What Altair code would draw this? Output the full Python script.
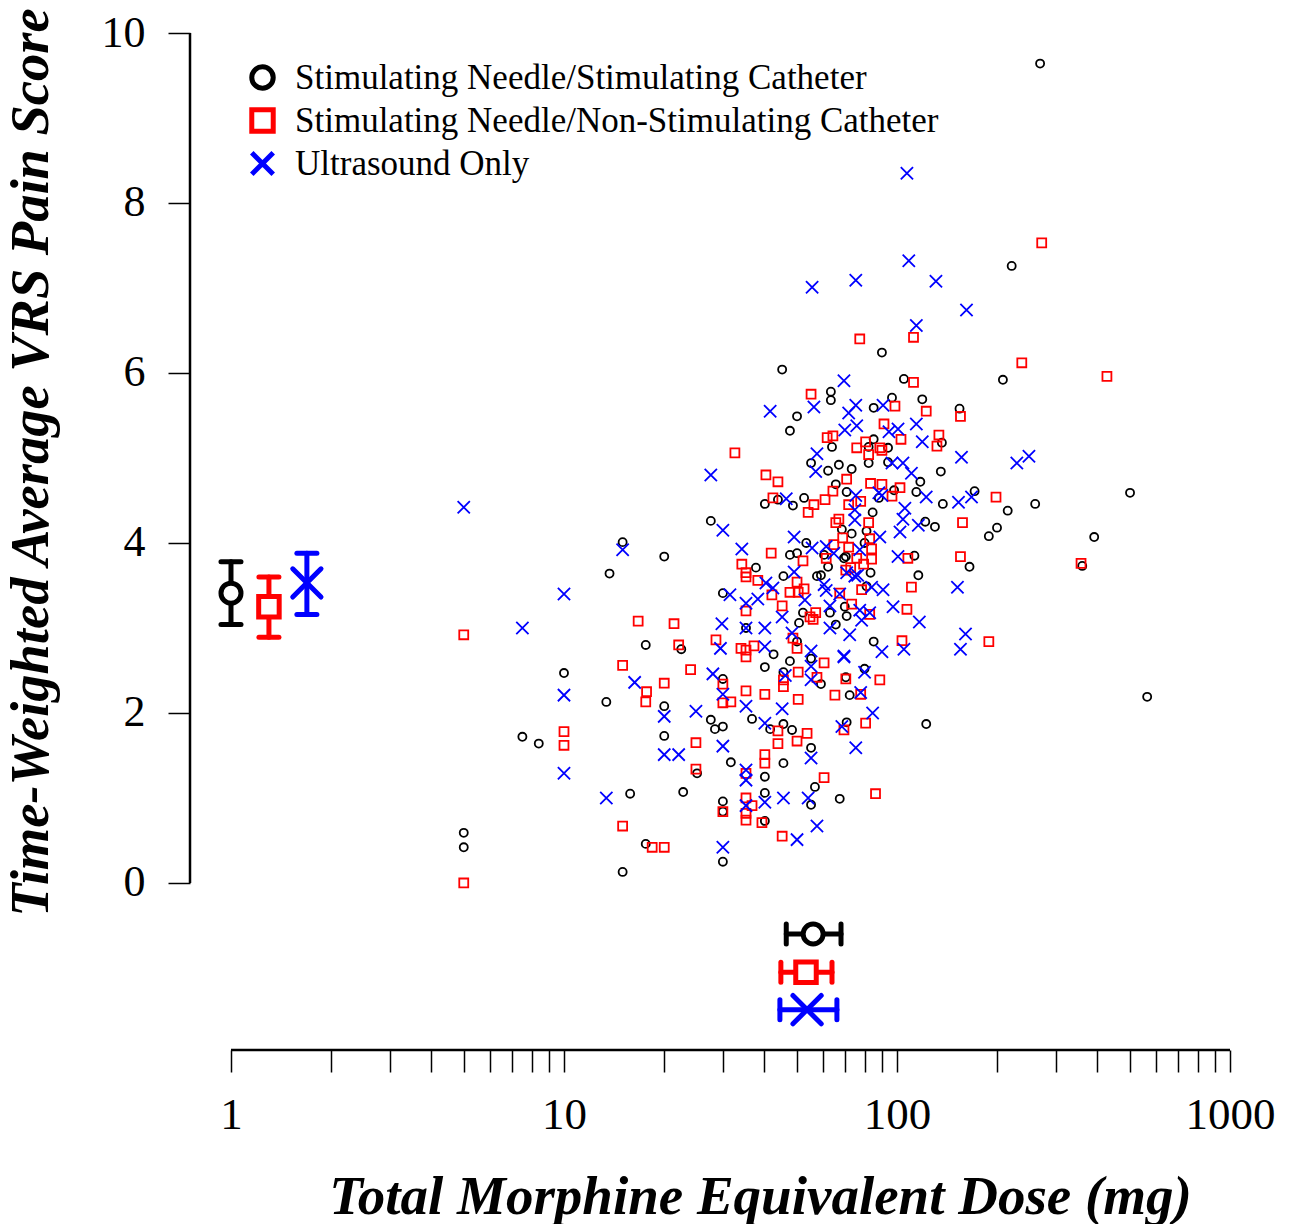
import altair as alt
import pandas as pd

SERIF = "Liberation Serif"

groups = ["Stimulating Needle/Stimulating Catheter",
          "Stimulating Needle/Non-Stimulating Catheter",
          "Ultrasound Only"]
colors = ["#000000", "#ff0000", "#0000ff"]
X_PATH = "M-1,-1L1,1M1,-1L-1,1"
shapes = ["circle", "square", X_PATH]
scatter_sizes = [65, 80, 150]
marker_sizes = [400, 420, 800]

# ---- group 1: stimulating needle / stimulating catheter (circles)
circ_dose = [15.0, 20.0, 13.7, 17.6, 22.5, 10.0, 13.4, 20.0, 7.5, 8.4, 20.0, 22.8, 15.8, 5.0, 5.0, 17.6, 15.0,
             45.2, 63.3, 63.3, 50.1, 47.7, 63.8, 55.2, 66.9, 62.1, 65.5, 70.6, 40.1, 43.9, 48.7, 52.6, 27.6, 68.3, 53.4,
             47.7, 50.1, 60.4, 69.3, 37.7, 62.1, 45.6, 57.5, 59.1, 30.0,
             52.2, 50.8, 62.9, 65.5, 69.7, 70.6, 35.2, 42.6, 40.1, 47.7, 50.1, 45.6, 55.2, 59.1, 70.2, 30.0, 36.7, 27.6,
             28.4, 30.0, 41.6, 45.6, 48.4, 55.2, 70.6, 25.1, 31.7, 45.6, 40.1, 56.7, 55.2, 67.3, 40.1, 30.0, 30.0, 30.0, 40.1,
             90.1, 104.9, 96.6, 85.1, 119.1, 154.1, 136.4, 85.1, 82.2, 94.0,
             82.2, 94.0, 73.1, 135.4, 98.0, 88.2, 117.5, 114.3, 137.3, 171.0, 84.5, 121.6, 130.0, 73.1, 81.0, 188.7, 199.7,
             79.9, 70.2, 112.8, 165.1, 83.3, 115.9, 81.0, 85.1, 79.9, 72.1, 122.4,
             269, 221, 208, 215, 260, 501, 391, 360, 564]
circ_score = [4.01, 3.84, 3.64, 2.80, 2.75, 2.47, 2.13, 2.08, 1.72, 1.64, 1.73, 1.07, 1.05, 0.59, 0.42, 0.46, 0.13,
              6.04, 5.78, 5.68, 5.49, 5.32, 5.13, 4.94, 4.92, 4.85, 4.69, 4.60, 4.46, 4.51, 4.44, 4.53, 4.26, 4.16, 4.00,
              3.86, 3.88, 3.86, 3.82, 3.71, 3.72, 3.61, 3.61, 3.62, 3.41,
              3.18, 3.06, 3.18, 3.04, 3.25, 3.14, 3.00, 2.69, 2.54, 2.61, 2.84, 2.48, 2.64, 2.34, 2.42, 2.40, 1.93, 1.92,
              1.81, 1.84, 1.81, 1.87, 1.80, 1.59, 1.89, 1.29, 1.42, 1.41, 1.25, 1.13, 0.92, 0.99, 1.06, 0.96, 0.84, 0.25, 0.73,
              6.24, 5.93, 5.71, 5.59, 5.69, 5.58, 5.18, 5.22, 5.13, 5.12,
              4.94, 4.95, 4.87, 4.84, 4.62, 4.53, 4.72, 4.60, 4.46, 4.61, 4.36, 4.25, 4.19, 4.11, 4.14, 4.08, 4.18,
              4.00, 3.84, 3.85, 3.72, 3.65, 3.62, 3.49, 2.84, 2.52, 2.21, 1.87,
              9.64, 7.26, 5.92, 4.38, 4.46, 4.59, 4.07, 3.73, 2.19]

# ---- group 2: stimulating needle / non-stimulating catheter (squares)
sq_dose = [16.7, 21.4, 5.0, 22.1, 15.0, 24.0, 20.0, 17.7, 17.6, 10.0, 10.0, 24.9, 24.9, 15.0, 18.4, 20.0, 5.0,
           55.2, 61.7, 64.2, 32.6, 40.4, 43.9, 70.6, 64.2, 60.8, 42.4, 56.3, 54.1, 71.6, 66.9, 65.5, 41.9, 68.7, 64.6,
           61.3, 52.2, 34.2, 35.2, 35.2, 70.2, 38.2, 50.1, 47.7, 50.5, 52.6, 67.3,
           35.2, 42.1, 45.2, 54.8, 57.0, 56.0, 28.6, 34.0, 35.2, 35.2, 37.2, 48.7, 50.1, 45.6, 45.6, 50.5, 57.5, 60.4,
           65.1, 30.0, 30.0, 31.7, 35.2, 40.1, 50.5, 43.9, 53.7, 50.1, 43.9, 69.3, 40.1, 40.1, 35.2, 60.4, 35.2, 30.0,
           39.3, 35.2, 35.2, 36.7, 45.2,
           77.3, 112.1, 112.1, 98.6, 122.4, 155.1, 91.4, 102.8, 133.6, 80.5, 75.7, 88.8, 131.8,
           82.2, 90.1, 83.3, 90.1, 102.1, 96.6, 198.3, 77.8, 82.2, 157.3, 82.8, 71.6, 83.9, 75.7, 83.9, 79.4, 107.8,
           155.1, 72.6, 78.3, 110.5, 73.1, 82.8, 107.1, 103.5, 188.7, 70.2, 88.8, 77.8,
           80.5, 86.2,
           272, 237, 427, 357]
sq_score = [3.08, 3.05, 2.92, 2.80, 2.56, 2.51, 2.35, 2.25, 2.13, 1.78, 1.62, 1.65, 1.34, 0.67, 0.42, 0.42, 0.00,
            5.75, 5.24, 5.26, 5.06, 4.80, 4.72, 4.75, 4.61, 4.51, 4.53, 4.45, 4.36, 4.45, 4.28, 4.24, 3.88, 4.06, 3.98,
            3.82, 3.79, 3.75, 3.65, 3.60, 3.68, 3.56, 3.54, 3.42, 3.42, 3.46, 3.41,
            3.20, 3.39, 3.26, 3.13, 3.18, 3.10, 2.86, 2.76, 2.74, 2.66, 2.79, 2.88, 2.76, 2.39, 2.31, 2.48, 2.42, 2.59,
            2.21, 2.34, 2.12, 2.13, 2.26, 2.22, 2.16, 1.79, 1.76, 1.67, 1.64, 1.80, 1.51, 1.41, 1.29, 1.24, 1.00, 0.84,
            0.71, 0.82, 0.74, 0.91, 0.55,
            6.40, 6.42, 5.89, 5.61, 5.55, 5.49, 5.40, 5.22, 5.27, 5.19, 5.12, 5.12, 5.14,
            5.04, 5.09, 4.70, 4.69, 4.65, 4.55, 4.54, 4.49, 4.24, 4.24, 4.05, 3.95, 3.93, 3.82, 3.81, 3.75, 3.82,
            3.84, 3.71, 3.45, 3.48, 3.28, 3.16, 3.22, 2.85, 2.84, 2.40, 2.39, 2.22,
            1.88, 1.05,
            7.53, 6.12, 5.96, 3.76]

# ---- group 3: ultrasound only (crosses)
x_dose = [5.0, 15.0, 10.0, 7.5, 16.3, 10.0, 20.0, 24.9, 20.0, 22.1, 10.0, 13.4,
          55.6, 69.3, 41.6, 56.3, 69.7, 57.5, 57.0, 27.6, 46.5, 30.0, 49.1, 34.2, 55.6, 61.3, 64.6, 49.1, 40.4, 42.4,
          60.4, 31.5, 61.3, 67.3,
          35.2, 38.2, 45.2, 52.9, 62.9, 62.9, 29.8, 35.2, 40.1, 29.5, 40.1, 48.4, 46.2, 55.2, 55.2, 55.2, 69.3, 28.0,
          30.0, 35.2, 45.2, 40.1, 55.2, 30.0, 68.3, 35.2, 35.2, 45.6, 54.1, 40.1, 35.2, 57.5, 50.1, 30.0,
          107.1, 108.5, 75.2, 130.9, 161.7, 114.3, 75.2, 71.6, 90.8, 75.7, 94.6, 100.7, 114.3, 119.1,
          156.2, 96.6, 104.2, 110.5, 75.2, 88.2, 90.1, 122.4, 153.0, 167.4, 74.7, 74.7, 105.6, 104.2, 115.9, 102.1,
          88.8, 77.3, 100.7, 70.6, 74.7, 76.2, 83.9, 90.8, 151.9, 77.3, 78.3, 82.8, 97.3, 116.7, 72.1, 160.6, 155.1,
          90.1, 104.9, 69.3, 79.9, 77.8,
          84.5, 75.2,
          229, 249]
x_score = [4.42, 3.92, 3.40, 3.00, 2.36, 2.21, 1.96, 2.02, 1.51, 1.51, 1.29, 1.00,
           7.01, 5.91, 5.55, 5.60, 5.33, 5.05, 4.84, 4.80, 4.52, 4.15, 4.07, 3.93, 3.94, 3.96, 3.88, 3.66, 3.53, 3.47,
           3.51, 3.39, 3.44, 3.40,
           3.29, 3.34, 3.13, 3.33, 3.26, 3.00, 3.05, 3.00, 3.00, 2.76, 2.78, 2.94, 2.44, 2.73, 2.55, 2.39, 2.66, 2.46,
           2.22, 2.08, 2.05, 1.88, 1.47, 1.61, 1.84, 1.33, 1.21, 1.00, 1.00, 0.95, 0.91, 0.67, 0.51, 0.42,
           8.35, 7.32, 7.09, 7.08, 6.74, 6.56, 5.62, 5.53, 5.62, 5.38, 5.31, 5.34, 5.40, 5.19,
           5.01, 4.94, 4.94, 4.82, 4.56, 4.59, 4.56, 4.54, 4.48, 4.54, 4.39, 4.27, 4.41, 4.28, 4.21, 4.13,
           4.07, 3.92, 3.84, 3.65, 3.61, 3.62, 3.48, 3.45, 3.48, 3.21, 3.09, 3.18, 3.25, 3.07, 2.92, 2.93, 2.75,
           2.72, 2.75, 2.67, 2.48, 2.24,
           2.00, 1.59,
           4.94, 5.02]

# ---- group summaries (mean and 95% CI)
summ_pos_dose = [1.0, 1.30, 1.69]          # where the score summaries sit on the dose axis
summ_score_mean = [3.41, 3.25, 3.53]
summ_score_lo = [3.04, 2.89, 3.16]
summ_score_hi = [3.78, 3.60, 3.88]
summ_dose_mean = [56.0, 53.3, 53.7]
summ_dose_lo = [46.5, 44.8, 44.5]
summ_dose_hi = [67.9, 63.8, 66.0]
summ_pos_score = [-0.60, -1.05, -1.49]     # where the dose summaries sit on the score axis

x_tick_values = [1, 2, 3, 4, 5, 6, 7, 8, 9, 10, 20, 30, 40, 50, 60, 70, 80, 90,
                 100, 200, 300, 400, 500, 600, 700, 800, 900, 1000]
y_tick_values = [0, 2, 4, 6, 8, 10]

# ---------------- tables ----------------
frames = []
for g, d, s, sz in zip(groups, [circ_dose, sq_dose, x_dose], [circ_score, sq_score, x_score], scatter_sizes):
    f = pd.DataFrame({"dose": d, "score": s})
    f["group"] = g
    f["sz"] = sz
    frames.append(f)
scatter_df = pd.concat(frames, ignore_index=True)

vsum = pd.DataFrame({"group": groups, "dose": summ_pos_dose, "score": summ_score_mean,
                     "lo": summ_score_lo, "hi": summ_score_hi, "msz": marker_sizes})
vcaps = pd.concat([
    pd.DataFrame({"group": groups, "dose": summ_pos_dose, "score": summ_score_lo}),
    pd.DataFrame({"group": groups, "dose": summ_pos_dose, "score": summ_score_hi})], ignore_index=True)
hsum = pd.DataFrame({"group": groups, "dose": summ_dose_mean, "score": summ_pos_score,
                     "lo": summ_dose_lo, "hi": summ_dose_hi, "msz": marker_sizes})
hcaps = pd.concat([
    pd.DataFrame({"group": groups, "dose": summ_dose_lo, "score": summ_pos_score}),
    pd.DataFrame({"group": groups, "dose": summ_dose_hi, "score": summ_pos_score})], ignore_index=True)

yline = pd.DataFrame({"score": [y_tick_values[0]], "score_end": [y_tick_values[-1]]})
xline = pd.DataFrame({"dose": [x_tick_values[0]], "dose_end": [x_tick_values[-1]]})

# ---------------- scales / axes ----------------
W, H = 1040, 1017
xs = alt.Scale(type="log", domain=[0.7532, 1000], nice=False)
ys = alt.Scale(domain=[-1.965, 10], nice=False, zero=False)
color_scale = alt.Scale(domain=groups, range=colors)
shape_scale = alt.Scale(domain=groups, range=shapes)

x_axis = alt.Axis(values=x_tick_values,
                  labelExpr="datum.value == 1 || datum.value == 10 || datum.value == 100 || datum.value == 1000 ? format(datum.value, 'd') : ''",
                  domain=False, grid=False, tickSize=22, tickWidth=1.5, tickColor="black",
                  labelFont=SERIF, labelFontSize=45, labelColor="black", labelPadding=20,
                  labelOverlap=False, labelFlush=False, labelBound=False,
                  title="Total Morphine Equivalent Dose (mg)", titleFont=SERIF, titleFontSize=55,
                  titleFontWeight="bold", titleFontStyle="italic", titleColor="black",
                  titleX=570, titleY=163, titleAlign="center", titleBaseline="alphabetic")
y_axis = alt.Axis(values=y_tick_values, domain=False, grid=False, tickSize=22, tickWidth=1.5,
                  tickColor="black", labelFont=SERIF, labelFontSize=44, labelColor="black",
                  labelPadding=23, labelOverlap=False, labelFlush=False,
                  title="Time-Weighted Average VRS Pain Score", titleFont=SERIF, titleFontSize=54.5,
                  titleFontWeight="bold", titleFontStyle="italic", titleColor="black",
                  titleAngle=270, titleX=-143, titleY=429, titleAlign="center", titleBaseline="alphabetic")

legend = alt.Legend(title=None, orient="none", legendX=55, legendY=27, padding=0,
                    symbolSize=460, symbolStrokeWidth=5, symbolFillColor="white",
                    labelFont=SERIF, labelFontSize=35,
                    labelColor="black", labelOffset=15, rowPadding=0, labelLimit=1000)


def X(f="dose"):
    return alt.X(f"{f}:Q", scale=xs, axis=x_axis)


def Y(f="score"):
    return alt.Y(f"{f}:Q", scale=ys, axis=y_axis)


scatter = alt.Chart(scatter_df).mark_point(filled=False, strokeWidth=1.8, opacity=1).encode(
    x=X(), y=Y(),
    color=alt.Color("group:N", scale=color_scale, legend=legend),
    shape=alt.Shape("group:N", scale=shape_scale, legend=legend),
    size=alt.Size("sz:Q", scale=None, legend=None))

y_line = alt.Chart(yline).mark_rule(color="black", strokeWidth=2.5).encode(
    x=alt.value(0), y=Y("score"), y2="score_end:Q")
x_line = alt.Chart(xline).mark_rule(color="black", strokeWidth=2.5).encode(
    x=X("dose"), x2="dose_end:Q", y=alt.value(H))

stroke_enc = alt.Stroke("group:N", scale=color_scale, legend=None)

v_rule = alt.Chart(vsum).mark_rule(strokeWidth=5, strokeCap="round").encode(
    x=X(), y=Y("lo"), y2="hi:Q", stroke=stroke_enc)
v_caps = alt.Chart(vcaps).mark_rule(strokeWidth=5, strokeCap="round", xOffset=-10, x2Offset=10).encode(
    x=X(), x2="dose:Q", y=Y(), stroke=stroke_enc)
h_rule = alt.Chart(hsum).mark_rule(strokeWidth=5, strokeCap="round").encode(
    x=X("lo"), x2="hi:Q", y=Y(), stroke=stroke_enc)
h_caps = alt.Chart(hcaps).mark_rule(strokeWidth=5, strokeCap="round", yOffset=-10, y2Offset=10).encode(
    x=X(), y=Y(), y2="score:Q", stroke=stroke_enc)


def markers(df):
    return alt.Chart(df).mark_point(filled=True, strokeWidth=5, strokeCap="round", opacity=1).encode(
        x=X(), y=Y(),
        fill=alt.value("white"),
        stroke=stroke_enc,
        shape=alt.Shape("group:N", scale=shape_scale, legend=None),
        size=alt.Size("msz:Q", scale=None, legend=None))


chart = alt.layer(
    scatter, y_line, x_line, v_rule, v_caps, markers(vsum), h_rule, h_caps, markers(hsum)
).properties(
    width=W, height=H,
    padding={"left": 190, "top": 33, "right": 63, "bottom": 174},
    autosize=alt.AutoSizeParams(type="none"),
    background="white",
).configure_view(stroke=None)

chart.save("out.html", embed_options={"renderer": "svg", "actions": False})
